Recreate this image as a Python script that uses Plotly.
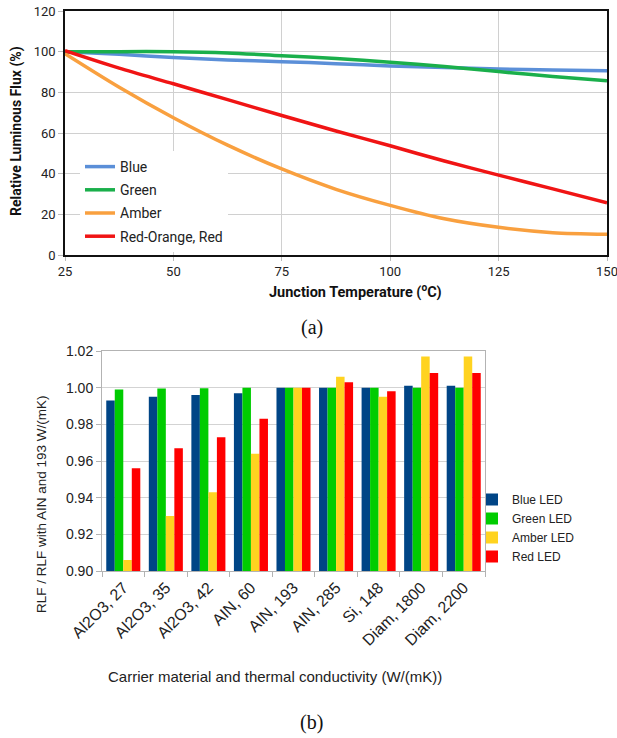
import plotly.graph_objects as go

W, H = 617, 738

def px(x):
    return x / W

def py(y):
    return 1 - y / H

# ---------- (a) line chart data ----------
temps = [25, 37.5, 50, 62.5, 75, 87.5, 100, 112.5, 125, 137.5, 150]
flux_blue = [100, 98.7, 97.1, 95.9, 95.1, 94.1, 93.0, 92.2, 91.5, 91.0, 90.6]
flux_green = [100, 100, 100, 99.4, 98.0, 96.7, 94.8, 92.7, 90.2, 87.8, 85.7]
flux_amber = [99, 82.5, 67.5, 54.0, 42.3, 32.3, 24.4, 17.8, 13.6, 11.0, 10.2]
flux_red = [100.5, 91.9, 84.2, 76.4, 68.6, 61.0, 53.7, 46.2, 39.3, 32.5, 25.7]
line_names = ["Blue", "Green", "Amber", "Red-Orange, Red"]
line_colors = ["#5b8fd8", "#1aaf4b", "#f9a03f", "#f01414"]

# ---------- (b) bar chart data ----------
carriers = ["Al2O3, 27", "Al2O3, 35", "Al2O3, 42", "AIN, 60", "AIN, 193",
            "AIN, 285", "Si, 148", "Diam, 1800", "Diam, 2200"]
rlf_blue = [0.993, 0.995, 0.996, 0.997, 1.000, 1.000, 1.000, 1.001, 1.001]
rlf_green = [0.999, 0.9995, 0.9997, 1.000, 1.000, 1.000, 1.000, 1.000, 1.000]
rlf_amber = [0.906, 0.930, 0.943, 0.964, 1.000, 1.006, 0.995, 1.017, 1.017]
rlf_red = [0.956, 0.967, 0.973, 0.983, 1.000, 1.003, 0.998, 1.008, 1.008]
bar_names = ["Blue LED", "Green LED", "Amber LED", "Red LED"]
bar_colors = ["#004586", "#00cc00", "#ffd320", "#ff0000"]

fig = go.Figure()

for name, ys, col in zip(line_names, [flux_blue, flux_green, flux_amber, flux_red], line_colors):
    fig.add_trace(go.Scatter(
        x=temps, y=ys, name=name, mode="lines",
        line=dict(color=col, width=3.5, shape="spline", smoothing=0.8),
        xaxis="x", yaxis="y", legend="legend", legendgroup=name,
    ))

for name, ys, col in zip(bar_names, [rlf_blue, rlf_green, rlf_amber, rlf_red], bar_colors):
    fig.add_trace(go.Bar(
        x=carriers, y=ys, name=name, marker=dict(color=col, line=dict(width=0)),
        xaxis="x2", yaxis="y2", legend="legend2",
    ))

top_font = dict(family="Roboto", size=13, color="#222")
bot_font = dict(family="Liberation Sans", size=14, color="#222")
cat_font = dict(family="Liberation Sans", size=16, color="#222")

fig.update_layout(
    width=W, height=H,
    margin=dict(l=0, r=0, t=0, b=0, autoexpand=False),
    paper_bgcolor="white", plot_bgcolor="white",
    barmode="group", bargap=0.2, bargroupgap=0,
    showlegend=True,
    xaxis=dict(
        domain=[px(65), px(607)], range=[25, 150], tickvals=[25, 50, 75, 100, 125, 150],
        showgrid=True, gridcolor="#d0d0d0", gridwidth=1,
        showline=True, linecolor="#111", linewidth=1.5, mirror=True,
        ticks="outside", ticklen=4, tickcolor="#bbb",
        tickfont=top_font, zeroline=False, anchor="y",
        automargin=False, ticklabeloverflow="allow",
    ),
    yaxis=dict(
        domain=[py(255), py(11)], range=[0, 120], tickvals=[0, 20, 40, 60, 80, 100, 120],
        showgrid=True, gridcolor="#d0d0d0", gridwidth=1,
        showline=True, linecolor="#111", linewidth=1.5, mirror=True,
        ticks="outside", ticklen=5, tickcolor="#bbb",
        tickfont=top_font, zeroline=False, anchor="x",
        automargin=False, ticklabeloverflow="allow",
    ),
    xaxis2=dict(
        domain=[px(102), px(485)], type="category",
        showgrid=False, showline=True, linecolor="#b3b3b3", linewidth=1, mirror=True,
        ticks="outside", ticklen=5, tickcolor="#b3b3b3", tickson="boundaries",
        tickangle=-45, tickfont=cat_font, anchor="y2",
        automargin=False, ticklabeloverflow="allow",
    ),
    yaxis2=dict(
        domain=[py(571), py(351)], range=[0.90, 1.02],
        tickvals=[0.90, 0.92, 0.94, 0.96, 0.98, 1.00, 1.02], tickformat=".2f",
        showgrid=True, gridcolor="#d3d3d3", gridwidth=1,
        showline=True, linecolor="#b3b3b3", linewidth=1, mirror=True,
        ticks="outside", ticklen=5, tickcolor="#b3b3b3",
        tickfont=bot_font, zeroline=False, anchor="x2",
        automargin=False, ticklabeloverflow="allow",
    ),
    legend=dict(
        x=px(80), y=py(151), xanchor="left", yanchor="top",
        bgcolor="white", borderwidth=0, traceorder="grouped", tracegroupgap=2,
        font=dict(family="Roboto", size=14, color="#222"),
    ),
    legend2=dict(
        x=px(472), y=py(485), xanchor="left", yanchor="top",
        bgcolor="rgba(0,0,0,0)", borderwidth=0,
        font=dict(family="Liberation Sans", size=12, color="#222"),
    ),
    annotations=[
        dict(text="Relative Luminous Flux (%)", x=px(16), y=py(131), xref="paper", yref="paper",
             textangle=-90, showarrow=False, xanchor="center", yanchor="middle",
             font=dict(family="Roboto", size=14, color="#111", weight="bold")),
        dict(text="Junction Temperature (<sup>o</sup>C)", x=px(355), y=py(292), xref="paper", yref="paper",
             showarrow=False, xanchor="center", yanchor="middle",
             font=dict(family="Roboto", size=14.5, color="#111", weight="bold")),
        dict(text="(a)", x=px(312), y=py(327), xref="paper", yref="paper",
             showarrow=False, xanchor="center", yanchor="middle",
             font=dict(family="Liberation Serif", size=20, color="#111")),
        dict(text="RLF / RLF with AIN and 193 W/(mK)", x=px(41), y=py(504), xref="paper", yref="paper",
             textangle=-90, showarrow=False, xanchor="center", yanchor="middle",
             font=dict(family="Liberation Sans", size=13.5, color="#222")),
        dict(text="Carrier material and thermal conductivity (W/(mK))", x=px(275), y=py(676),
             xref="paper", yref="paper", showarrow=False, xanchor="center", yanchor="middle",
             font=dict(family="Liberation Sans", size=15, color="#222")),
        dict(text="(b)", x=px(312), y=py(722), xref="paper", yref="paper",
             showarrow=False, xanchor="center", yanchor="middle",
             font=dict(family="Liberation Serif", size=20, color="#111")),
    ],
)

fig.write_html("out.html")
